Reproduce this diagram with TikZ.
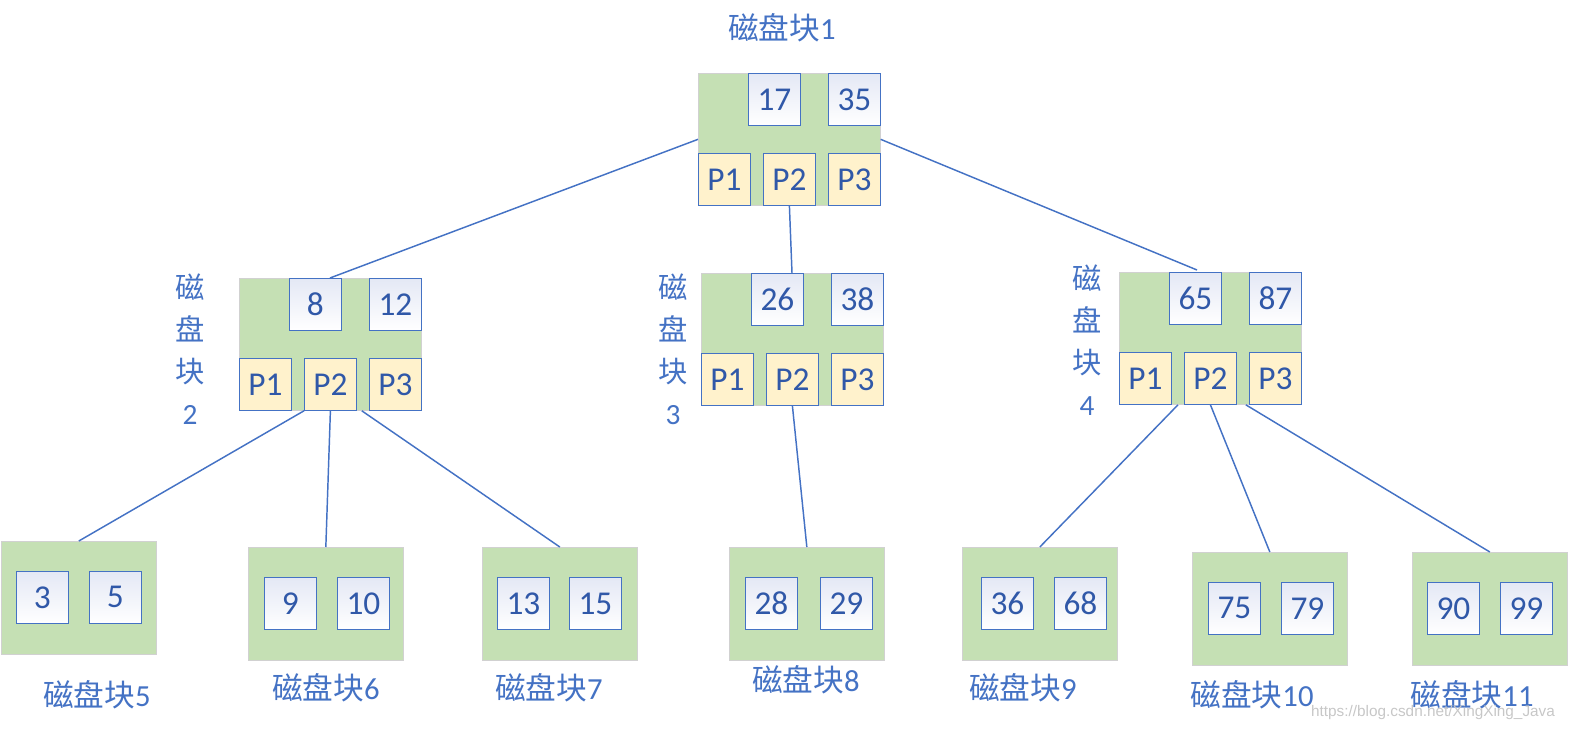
\documentclass[tikz,border=0pt]{standalone}
\usepackage{fontspec}
\setmainfont{Carlito}
\newfontfamily\cjk{Noto Sans CJK SC}
\usetikzlibrary{calc}
\definecolor{blkgreen}{HTML}{C5E0B4}
\definecolor{ptryellow}{HTML}{FFF2CC}
\definecolor{boxblue}{HTML}{4472C4}
\definecolor{txtblue}{HTML}{3058A8}
\definecolor{lblblue}{HTML}{4472C4}
\definecolor{keytop}{HTML}{E4E8F5}
\begin{document}
\begin{tikzpicture}[x=0.75pt,y=-0.75pt,
  blk/.style={draw=black!18, fill=blkgreen, line width=0.5pt, minimum width=136.5pt, minimum height=99pt, inner sep=0pt, anchor=north west},
  leaf/.style={draw=black!18, fill=blkgreen, line width=0.5pt, minimum width=116.25pt, minimum height=84.75pt, inner sep=0pt, anchor=north west},
  key/.style={draw=boxblue, line width=0.6pt, top color=keytop, bottom color=white, minimum size=39pt, inner sep=0pt, anchor=north west, text=txtblue, font=\fontsize{25}{28}\selectfont},
  ptr/.style={draw=boxblue, line width=0.6pt, fill=ptryellow, minimum size=39pt, inner sep=0pt, anchor=north west, text=txtblue, font=\fontsize{25}{28}\selectfont},
  lbl/.style={text=lblblue, inner sep=0pt, font=\fontsize{23}{26}\selectfont},
  vlbl/.style={text=lblblue, inner sep=0pt, align=center, font=\fontsize{22}{31.5}\selectfont},
  link/.style={draw=boxblue, line width=1.1pt}]
\useasboundingbox (0,0) rectangle (1569,731);

% ---- root block ----
\node[blk] (root) at (698,73) {};
\node[key] (k17) at (748,73) {17};
\node[key] (k35) at (828,73) {35};
\node[ptr] (rp1) at (698,153) {P1};
\node[ptr] (rp2) at (763,153) {P2};
\node[ptr] (rp3) at (828,153) {P3};
\node[lbl] (lab1) at (782,28) {{\cjk 磁盘块}1};

% ---- block 2 ----
\node[blk] (b2) at (239,278) {};
\node[key] (k8) at (289,278) {8};
\node[key] (k12) at (369,278) {12};
\node[ptr] (b2p1) at (239,358) {P1};
\node[ptr] (b2p2) at (304,358) {P2};
\node[ptr] (b2p3) at (369,358) {P3};
\node[vlbl] (lab2) at (190,349) {{\cjk 磁}\\{\cjk 盘}\\{\cjk 块}\\2};

% ---- block 3 ----
\node[blk] (b3) at (701,273) {};
\node[key] (k26) at (751,273) {26};
\node[key] (k38) at (831,273) {38};
\node[ptr] (b3p1) at (701,353) {P1};
\node[ptr] (b3p2) at (766,353) {P2};
\node[ptr] (b3p3) at (831,353) {P3};
\node[vlbl] (lab3) at (673,349) {{\cjk 磁}\\{\cjk 盘}\\{\cjk 块}\\3};

% ---- block 4 ----
\node[blk] (b4) at (1119,272) {};
\node[key] (k65) at (1169,272) {65};
\node[key] (k87) at (1249,272) {87};
\node[ptr] (b4p1) at (1119,352) {P1};
\node[ptr] (b4p2) at (1184,352) {P2};
\node[ptr] (b4p3) at (1249,352) {P3};
\node[vlbl] (lab4) at (1087,340) {{\cjk 磁}\\{\cjk 盘}\\{\cjk 块}\\4};

% ---- leaves ----
\node[leaf] (l5) at (1,541) {};
\node[key] (k3) at (16,571) {3};
\node[key] (k5) at (89,571) {5};
\node[lbl] (lab5) at (97,695) {{\cjk 磁盘块}5};

\node[leaf] (l6) at (248,547) {};
\node[key] (k9) at (264,577) {9};
\node[key] (k10) at (337,577) {10};
\node[lbl] (lab6) at (326,688) {{\cjk 磁盘块}6};

\node[leaf] (l7) at (482,547) {};
\node[key] (k13) at (497,577) {13};
\node[key] (k15) at (569,577) {15};
\node[lbl] (lab7) at (549,688) {{\cjk 磁盘块}7};

\node[leaf] (l8) at (729,547) {};
\node[key] (k28) at (745,577) {28};
\node[key] (k29) at (820,577) {29};
\node[lbl] (lab8) at (806,680) {{\cjk 磁盘块}8};

\node[leaf] (l9) at (962,547) {};
\node[key] (k36) at (981,577) {36};
\node[key] (k68) at (1054,577) {68};
\node[lbl] (lab9) at (1023,688) {{\cjk 磁盘块}9};

\node[leaf] (l10) at (1192,552) {};
\node[key] (k75) at (1208,582) {75};
\node[key] (k79) at (1281,582) {79};
\node[lbl] (lab10) at (1252,695) {{\cjk 磁盘块}10};

\node[leaf] (l11) at (1412,552) {};
\node[key] (k90) at (1427,582) {90};
\node[key] (k99) at (1500,582) {99};
\node[lbl] (lab11) at (1472,695) {{\cjk 磁盘块}11};

\node[text=black!22, inner sep=0pt, font=\fontsize{11.5}{13}\fontspec{Liberation Sans}] (wm) at (1433,713) {https://blog.csdn.net/XingXing\_Java};

% ---- connectors ----
\draw[link] (root.west) -- ($(k8.north west)+(41,0)$);
\draw[link] (rp2.south) -- ($(k26.north west)+(41,0)$);
\draw[link] (root.east) -- ($(k65.north west)+(28,-2)$);
\draw[link] (b2p2.south west) -- (l5.north);
\draw[link] (b2p2.south) -- (l6.north);
\draw[link] ($(b2p2.south east)+(5,0)$) -- (l7.north);
\draw[link] (b3p2.south) -- (l8.north);
\draw[link] ($(b4p2.south west)+(-6,0)$) -- (l9.north);
\draw[link] (b4p2.south) -- (l10.north);
\draw[link] ($(b4p2.south east)+(9,0)$) -- (l11.north);
\end{tikzpicture}
\end{document}
